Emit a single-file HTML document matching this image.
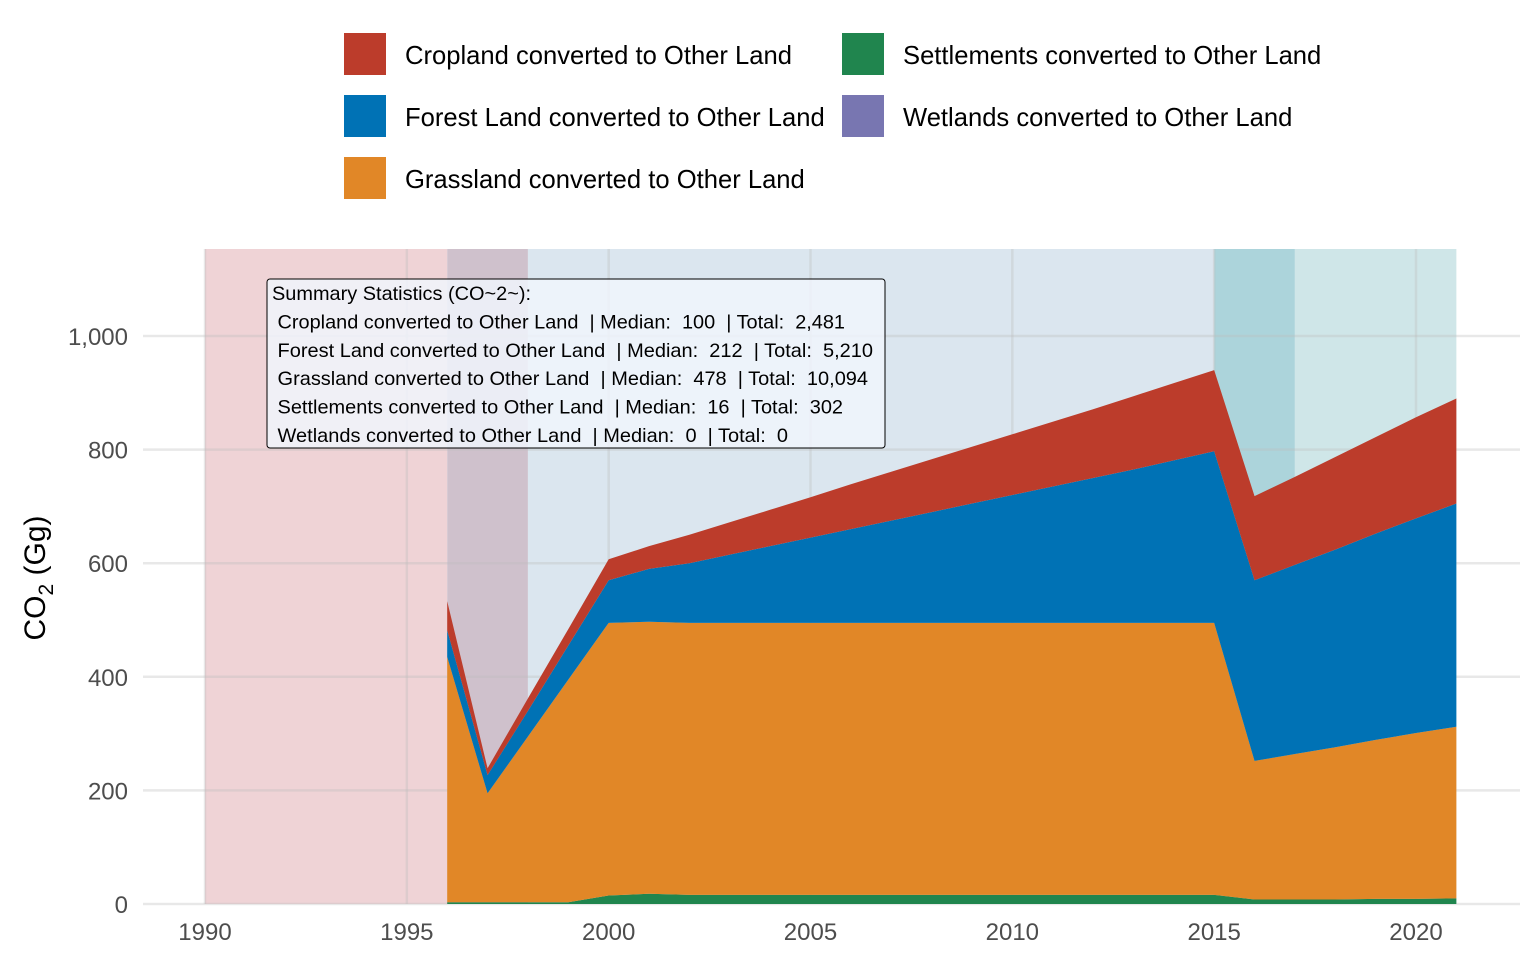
<!DOCTYPE html>
<html><head><meta charset="utf-8"><style>
body{margin:0;background:#fff;}
svg{display:block;font-family:"Liberation Sans",sans-serif;}
</style></head><body>
<svg id="chart" width="1536" height="960">
<g id="bands"></g><g id="grid"></g><g id="areas"></g><g id="axes"></g>
<g id="legend"></g>
<g id="tip"></g>
<text transform="translate(45,578) rotate(-90)" text-anchor="middle" font-size="30" fill="#000">CO<tspan font-size="21" dy="8">2</tspan><tspan dy="-8"> (Gg)</tspan></text>
</svg>
<script>
const years=[1996,1997,1998,1999,2000,2001,2002,2003,2004,2005,2006,2007,2008,2009,2010,2011,2012,2013,2014,2015,2016,2017,2018,2019,2020,2021];
const settlements=[3,3,3,3,15,18,16,16,16,16,16,16,16,16,16,16,16,16,16,16,8,8,8,9,9,10];
const grassland=[432,192,292,392,480,479,479,479,479,479,479,479,479,479,479,479,479,479,479,479,244,256,268,280,292,302];
const forest=[47,32,45,60,75,93,105,120,135,150,165,180,195,210,225,240,255,270,286,302,318,333,348,363,378,393];
const cropland=[51,12,22,29,37,40,50,57,64,71,79,86,93,100,107,114,121,129,136,143,148,155,163,170,178,185];
const wetlands=years.map(()=>0);
const xTicks=[1990,1995,2000,2005,2010,2015,2020];
const yTicks=[0,200,400,600,800,1000];
const yTickLabels=["0","200","400","600","800","1,000"];
const bandStarts=[1990,1996,1998,2015,2017];
const bandEnds=[1996,1998,2015,2017,2021];
const bandColors=["#efd3d6","#cfc1cc","#dbe6ef","#acd4db","#cfe6e8"];
const seriesNames=["Cropland converted to Other Land","Forest Land converted to Other Land","Grassland converted to Other Land","Settlements converted to Other Land","Wetlands converted to Other Land"];
const seriesColors=["#bc3c2b","#0072b5","#e18727","#20854e","#7876b1"];
const tipLines=["Summary Statistics (CO~2~):"," Cropland converted to Other Land  | Median:  100  | Total:  2,481"," Forest Land converted to Other Land  | Median:  212  | Total:  5,210"," Grassland converted to Other Land  | Median:  478  | Total:  10,094"," Settlements converted to Other Land  | Median:  16  | Total:  302"," Wetlands converted to Other Land  | Median:  0  | Total:  0"];
const NS="http://www.w3.org/2000/svg";
const X=y=>205+(y-1990)*(1211/30);
const Y=v=>904-v*0.568;
function mk(p,t,a){const e=document.createElementNS(NS,t);for(const k in a)e.setAttribute(k,a[k]);p.appendChild(e);return e;}
const G=id=>document.getElementById(id);
bandStarts.forEach((s,i)=>{
 const r=mk(G('bands'),'rect',{x:X(s),y:249,width:X(bandEnds[i])-X(s),height:655,fill:bandColors[i]});
 
 
});
yTicks.forEach((t,i)=>{
 mk(G('grid'),'line',{x1:143,x2:1520,y1:Y(t),y2:Y(t),stroke:'rgba(190,190,190,0.35)','stroke-width':2.5});
 const l=mk(G('axes'),'text',{x:128,y:Y(t)+9,'text-anchor':'end','font-size':24,fill:'#4d4d4d'});
 l.textContent=yTickLabels[i];
 
 
});
xTicks.forEach(t=>{
 mk(G('grid'),'line',{x1:X(t),x2:X(t),y1:249,y2:904,stroke:'rgba(190,190,190,0.35)','stroke-width':2.5});
 const l=mk(G('axes'),'text',{x:X(t),y:940,'text-anchor':'middle','font-size':24,fill:'#4d4d4d'});
 l.textContent=t;
 
 
});
const stackOrder=[settlements,grassland,forest,cropland];
const stackColors=["#20854e","#e18727","#0072b5","#bc3c2b"];
const stackNames=["settlements-area","grassland-area","forest-area","cropland-area"];
let base=years.map(()=>0);
stackOrder.forEach((s,si)=>{
 const top=base.map((b,i)=>b+s[i]);
 let d='M'+years.map((y,i)=>X(y)+','+Y(top[i])).join('L');
 d+='L'+years.slice().reverse().map((y,j)=>{const i=years.length-1-j;return X(y)+','+Y(base[i]);}).join('L')+'Z';
 const p=mk(G('areas'),'path',{d:d,fill:stackColors[si]});
 
 
 base=top;
});
const legPos=[[344,33],[344,95],[344,157],[842,33],[842,95]];
[0,1,2,3,4].forEach(i=>{
 const [lx,ly]=legPos[i];
 const g=mk(G('legend'),'g',{});
 
 
 mk(g,'rect',{x:lx,y:ly,width:42,height:42,fill:seriesColors[i]});
 const t=mk(g,'text',{x:lx+61,y:ly+31,'font-size':25.6,fill:'#000'});
 t.textContent=seriesNames[i];
});
mk(G('tip'),'rect',{x:267,y:279,width:618,height:169,rx:3,fill:'rgba(240,244,252,0.85)',stroke:'#000','stroke-width':1});
const tipW=[259,573,601,596,571,516];
tipLines.forEach((s,i)=>{
 const t=mk(G('tip'),'text',{x:272,y:300+i*28.4,'font-size':19.5,fill:'#000',textLength:tipW[i],lengthAdjust:'spacingAndGlyphs'});
 t.setAttribute('style','white-space:pre');
 t.textContent=s;
});
</script>
</body></html>
